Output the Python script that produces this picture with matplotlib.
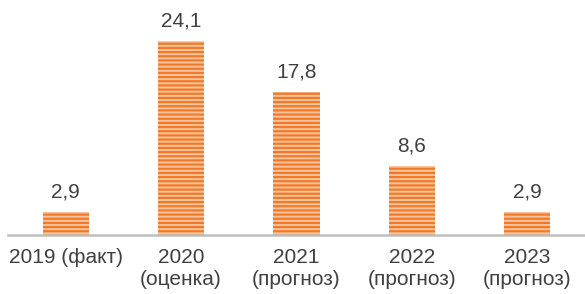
import matplotlib
matplotlib.use("Agg")
import matplotlib.pyplot as plt

categories = ["2019 (факт)", "2020\n(оценка)", "2021\n(прогноз)", "2022\n(прогноз)", "2023\n(прогноз)"]
values = [2.9, 24.1, 17.8, 8.6, 2.9]
value_labels = ["2,9", "24,1", "17,8", "8,6", "2,9"]

plt.rcParams['font.family'] = ['Liberation Sans', 'DejaVu Sans']
plt.rcParams['hatch.linewidth'] = 1.6
plt.rcParams['hatch.color'] = '#f07a2a'

fig = plt.figure(figsize=(5.85, 2.94), dpi=100)
ax = fig.add_axes([8/585, 59/294, 577/585, 235/294])

x = list(range(len(values)))
bars = ax.bar(x, values, width=0.40, color='#fbc49c', hatch='----', linewidth=0)
for b, lab in zip(bars, value_labels):
    ax.annotate(lab, (b.get_x() + b.get_width()/2, b.get_height()),
                xytext=(0, 7.5), textcoords='offset points', ha='center', va='bottom',
                fontsize=15, color='#404040')

ax.set_xlim(-0.5, 4.5)
ax.set_ylim(0, 235/8.05)
ax.set_xticks(x)
ax.set_xticklabels(categories, fontsize=15, color='#404040', linespacing=1.2)
ax.tick_params(axis='x', length=0, pad=9.5)
ax.set_yticks([])
for s in ['top', 'right', 'left']:
    ax.spines[s].set_visible(False)
ax.spines['bottom'].set_color('#bfbfbf')
ax.spines['bottom'].set_linewidth(1.8)

fig.savefig("out.png", dpi=100)
